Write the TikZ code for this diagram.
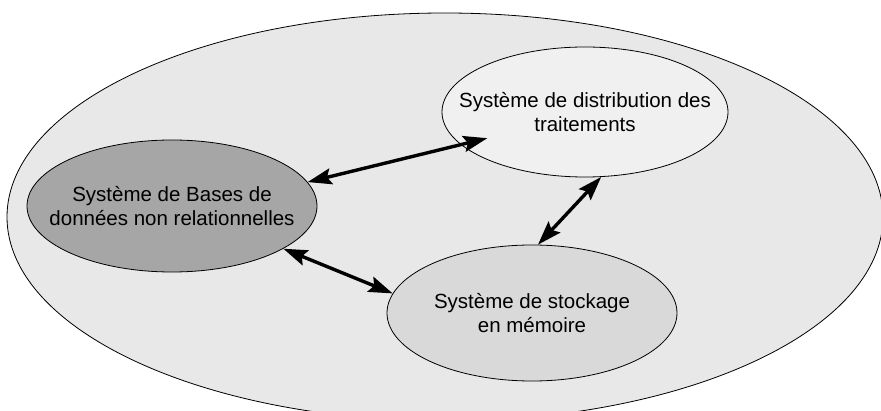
\documentclass[tikz,border=0pt]{standalone}
\usepackage{fontspec}
\setmainfont{Liberation Sans}
\usepackage{xcolor}
\usetikzlibrary{shapes.geometric,arrows.meta,calc}

\definecolor{fondcadre}{gray}{0.91}
\definecolor{fondbases}{gray}{0.65}
\definecolor{fonddistrib}{gray}{0.94}
\definecolor{fondstock}{gray}{0.85}

\begin{document}
\begin{tikzpicture}[
    x=1pt, y=-1pt,
    every node/.style={font=\fontsize{20.5}{24.5}\selectfont},
    systeme/.style={ellipse, draw, line width=0.8pt, inner sep=0pt, minimum width=290pt, minimum height=132pt},
    etiquette/.style={align=center, inner sep=0pt},
    lien/.style={{Stealth[length=24pt,width=16pt,inset=4pt]}-{Stealth[length=24pt,width=16pt,inset=4pt]}, line width=3.4pt}
]
    \useasboundingbox (0,0) rectangle (881,411);
    % cadre general
    \node [ellipse, draw, line width=0.8pt, fill=fondcadre, minimum width=876pt, minimum height=408pt] (cadre) at (445,217) {};
    % les trois systemes
    \node [systeme, fill=fondbases, label={[etiquette]center:Système de Bases de\\données non relationnelles}] (bases) at (172,206) {};
    \node [systeme, fill=fonddistrib, minimum width=286pt, minimum height=130pt, label={[etiquette]center:Système de distribution des\\traitements}] (distribution) at (585,112) {};
    \node [systeme, fill=fondstock, minimum height=136pt, label={[etiquette]center:Système de stockage\\en mémoire}] (stockage) at (532,313) {};
    % liens
    \draw [lien] (bases.10) -- ($(distribution.center)!0.79!(distribution.195)$);
    \draw [lien] (bases.339) -- (stockage.172);
    \draw [lien] (stockage.85) -- (distribution.284);
\end{tikzpicture}
\end{document}
